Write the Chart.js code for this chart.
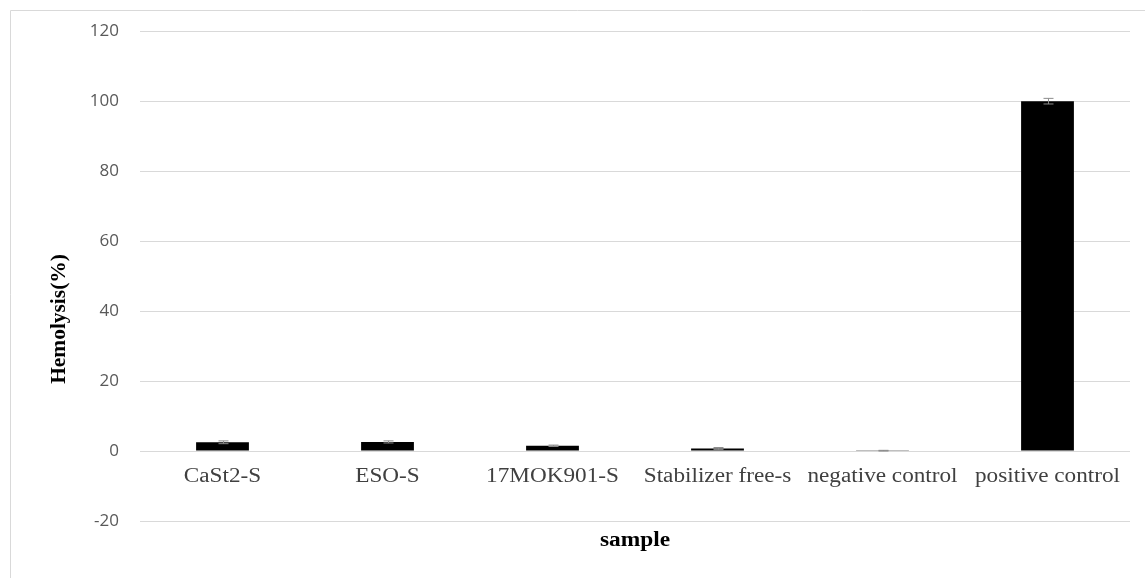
<!DOCTYPE html>
<html>
<head>
<meta charset="utf-8">
<script src="https://cdn.jsdelivr.net/npm/chart.js@4"></script>
<style>
  body { margin: 0; background: #fff; }
  canvas { display: block; }
</style>
</head>
<body>
<canvas id="hemoChart" width="1145" height="578"></canvas>
<script>
// Values
const categories = ['CaSt2-S', 'ESO-S', '17MOK901-S', 'Stabilizer free-s', 'negative control', 'positive control'];
const hemolysis = [2.5, 2.6, 1.5, 0.7, 0.1, 100];
const errors = [0.4, 0.3, 0.2, 0.3, 0.1, 0.8];
const yTicks = [-20, 0, 20, 40, 60, 80, 100, 120];

// text is a little wider than the font in the picture
function stretchedText(c, text, x, y, sx) {
  c.save();
  c.translate(x, y);
  c.scale(sx, 1);
  c.fillText(text, 0, 0);
  c.restore();
}

// frame, category labels, axis titles and error bars
const extras = {
  id: 'extras',
  beforeDraw(chart) {
    const c = chart.ctx;
    c.save();
    c.strokeStyle = '#d9d9d9';
    c.lineWidth = 1;
    c.beginPath();
    c.moveTo(10.5, chart.height);
    c.lineTo(10.5, 10.5);
    c.lineTo(chart.width, 10.5);
    c.stroke();
    c.restore();
  },
  afterDatasetsDraw(chart) {
    const c = chart.ctx;
    const x = chart.scales.x;
    const y = chart.scales.y;
    c.save();
    // error bars
    c.strokeStyle = '#8c8c8c';
    c.lineWidth = 1;
    hemolysis.forEach((v, i) => {
      const px = Math.round(x.getPixelForValue(i)) + 0.5;
      const top = y.getPixelForValue(v + errors[i]);
      const bot = y.getPixelForValue(v - errors[i]);
      c.beginPath();
      c.moveTo(px, top); c.lineTo(px, bot);
      c.moveTo(px - 5, top); c.lineTo(px + 5, top);
      c.moveTo(px - 5, bot); c.lineTo(px + 5, bot);
      c.stroke();
    });
    // category labels next to the zero line
    c.fillStyle = '#404040';
    c.font = '20px "Liberation Serif", "Times New Roman", serif';
    c.textAlign = 'center';
    c.textBaseline = 'middle';
    const y0 = y.getPixelForValue(0);
    categories.forEach((lab, i) => {
      stretchedText(c, lab, x.getPixelForValue(i), y0 + 26, 1.16);
    });
    // axis titles
    c.fillStyle = '#000';
    c.font = 'bold 20px "Liberation Serif", "Times New Roman", serif';
    stretchedText(c, 'sample', (chart.chartArea.left + chart.chartArea.right) / 2, 541, 1.17);
    c.translate(60, 319);
    c.rotate(-Math.PI / 2);
    stretchedText(c, 'Hemolysis(%)', 0, 0, 1.07);
    c.restore();
  }
};

new Chart(document.getElementById('hemoChart'), {
  type: 'bar',
  data: {
    labels: categories,
    datasets: [{
      label: 'Hemolysis(%)',
      data: hemolysis,
      backgroundColor: '#000000',
      borderWidth: 0,
      categoryPercentage: 1,
      barPercentage: 0.32
    }]
  },
  options: {
    responsive: false,
    animation: false,
    layout: { padding: { left: 0, top: 25, right: 15, bottom: 57 } },
    plugins: {
      legend: { display: false },
      tooltip: { enabled: false }
    },
    scales: {
      x: {
        display: false
      },
      y: {
        min: -20,
        max: 120,
        afterFit(scale) { scale.width = 140; },
        afterBuildTicks(scale) { scale.ticks = yTicks.map(v => ({ value: v })); },
        border: { display: false },
        grid: { color: '#d9d9d9', drawTicks: false },
        ticks: {
          padding: 21,
          color: '#595959',
          font: { family: '"Open Sans", "Noto Sans", sans-serif', size: 17 }
        }
      }
    }
  },
  plugins: [extras]
});
</script>
</body>
</html>
